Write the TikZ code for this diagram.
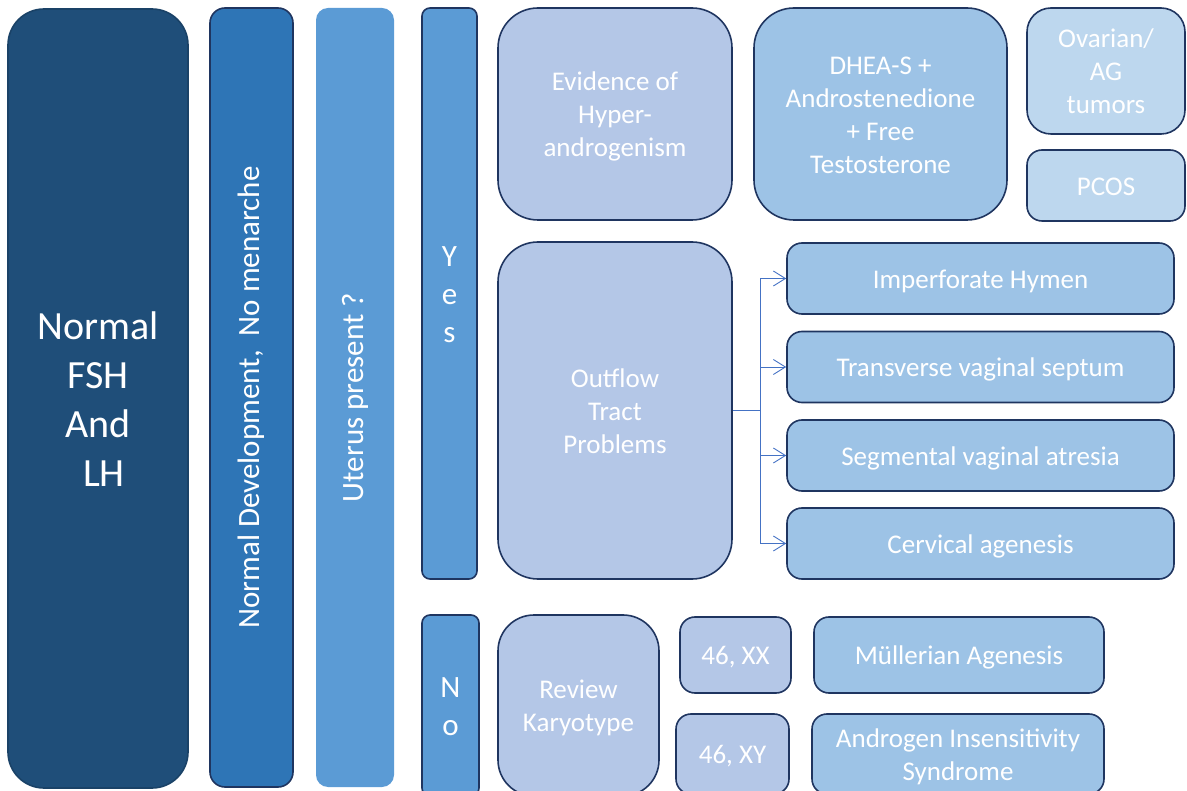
\documentclass[tikz,border=0pt]{standalone}
\usepackage{fontspec}
\setmainfont{Carlito}
\usetikzlibrary{arrows.meta}

\definecolor{navy}{HTML}{1F4E79}
\definecolor{midblue}{HTML}{2E75B6}
\definecolor{skyblue}{HTML}{5B9BD5}
\definecolor{lilac}{HTML}{B4C7E7}
\definecolor{paleblue}{HTML}{9DC3E6}
\definecolor{iceblue}{HTML}{BDD7EE}
\definecolor{edge}{HTML}{1F3560}
\definecolor{linkblue}{HTML}{4472C4}

% fixed line struts so every label sits at the same baseline offset
\newcommand\ascstrut{\rule{0pt}{0.97em}}
\newcommand\descstrut{\rule[-0.26em]{0pt}{0pt}}

\begin{document}
\begin{tikzpicture}[x=1pt,y=-1pt,
  box/.style={draw=edge, line width=1.6pt, text=white, align=center,
    inner sep=0pt, font=\fontsize{27}{33}\selectfont},
  bigtext/.style={font=\fontsize{40}{49}\selectfont},
  tall/.style={font=\fontsize{31}{38}\selectfont},
  branch/.style={draw=linkblue, line width=0.9pt,
    -{Straight Barb[length=12pt,width=15pt]}},
  trunk/.style={draw=linkblue, line width=0.9pt}
]
\useasboundingbox (0,0) rectangle (1187,791);
\clip (0,0) rectangle (1187,791);

% first column: hormone levels
\node[box, bigtext, fill=navy, draw=navy!85!black, minimum width=180pt,
  minimum height=779pt, rounded corners=36pt] (normal) at (98,398.5)
  {\ascstrut Normal\\FSH\\And\\\hspace{0.3em}LH\descstrut};

% development and uterus columns (set sideways)
\node[box, tall, rotate=90, fill=midblue, minimum width=779pt,
  minimum height=83pt, rounded corners=15pt] (dev) at (251.5,397.5)
  {Normal Development,\ \ No menarche};
\node[box, tall, rotate=90, fill=skyblue, draw=none, minimum width=779pt,
  minimum height=78pt, rounded corners=12pt] (uterus) at (355,397.5)
  {Uterus present ?};

% answers
\node[box, tall, fill=skyblue, minimum width=55pt, minimum height=571pt,
  rounded corners=8pt] (yes) at (449.5,293.5) {\ascstrut Y\\e\\s\descstrut};
\node[box, tall, fill=skyblue, minimum width=57pt, minimum height=181pt,
  rounded corners=8pt] (no) at (450.5,705.5) {\ascstrut N\\o\descstrut};

% uterus present branch
\node[box, fill=lilac, minimum width=234pt, minimum height=212pt,
  rounded corners=40pt] (hyper) at (615,114)
  {\ascstrut Evidence of\\Hyper-\\androgenism\descstrut};
\node[box, fill=paleblue, minimum width=253pt, minimum height=212pt,
  rounded corners=40pt] (dhea) at (880.5,114)
  {\ascstrut DHEA-S +\\Androstenedione\\+ Free\\Testosterone\descstrut};
\node[box, fill=iceblue, minimum width=158pt, minimum height=126pt,
  rounded corners=24pt] (tumor) at (1106,71)
  {\ascstrut Ovarian/\\AG\\tumors\descstrut};
\node[box, fill=iceblue, minimum width=158pt, minimum height=71pt,
  rounded corners=15pt] (pcos) at (1106,185.5) {\ascstrut PCOS\descstrut};

\node[box, fill=lilac, minimum width=234pt, minimum height=337pt,
  rounded corners=40pt] (outflow) at (615,410.5)
  {\ascstrut Outflow\\Tract\\Problems\descstrut};
\node[box, fill=paleblue, minimum width=387pt, minimum height=71pt,
  rounded corners=15pt] (hymen) at (980.5,278.5)
  {\ascstrut Imperforate Hymen\descstrut};
\node[box, fill=paleblue, minimum width=387pt, minimum height=71pt,
  rounded corners=15pt] (septum) at (980.5,367)
  {\ascstrut Transverse vaginal septum\descstrut};
\node[box, fill=paleblue, minimum width=387pt, minimum height=71pt,
  rounded corners=15pt] (atresia) at (980.5,455.5)
  {\ascstrut Segmental vaginal atresia\descstrut};
\node[box, fill=paleblue, minimum width=387pt, minimum height=71pt,
  rounded corners=15pt] (cervix) at (980.5,543.5)
  {\ascstrut Cervical agenesis\descstrut};

% uterus absent branch
\node[box, fill=lilac, minimum width=161pt, minimum height=181pt,
  rounded corners=36pt] (karyo) at (578.5,705.5)
  {\ascstrut Review\\Karyotype\descstrut};
\node[box, fill=lilac, minimum width=111pt, minimum height=76pt,
  rounded corners=15pt] (xx) at (735.5,655) {\ascstrut 46, XX\descstrut};
\node[box, fill=lilac, minimum width=113pt, minimum height=80pt,
  rounded corners=15pt] (xy) at (732.5,754) {\ascstrut 46, XY\descstrut};
\node[box, fill=paleblue, minimum width=290pt, minimum height=76pt,
  rounded corners=15pt] (mull) at (959,655)
  {\ascstrut Müllerian Agenesis\descstrut};
\node[box, fill=paleblue, minimum width=292pt, minimum height=80pt,
  rounded corners=15pt] (ais) at (958,754)
  {\ascstrut Androgen Insensitivity\\Syndrome\descstrut};

% outflow tract connectors
\draw[trunk] (outflow.east) -- ++(28,0) coordinate (fork);
\draw[branch] (fork) |- (hymen.west);
\draw[branch] (fork) |- (septum.west);
\draw[branch] (fork) |- (atresia.west);
\draw[branch] (fork) |- (cervix.west);
\end{tikzpicture}
\end{document}
